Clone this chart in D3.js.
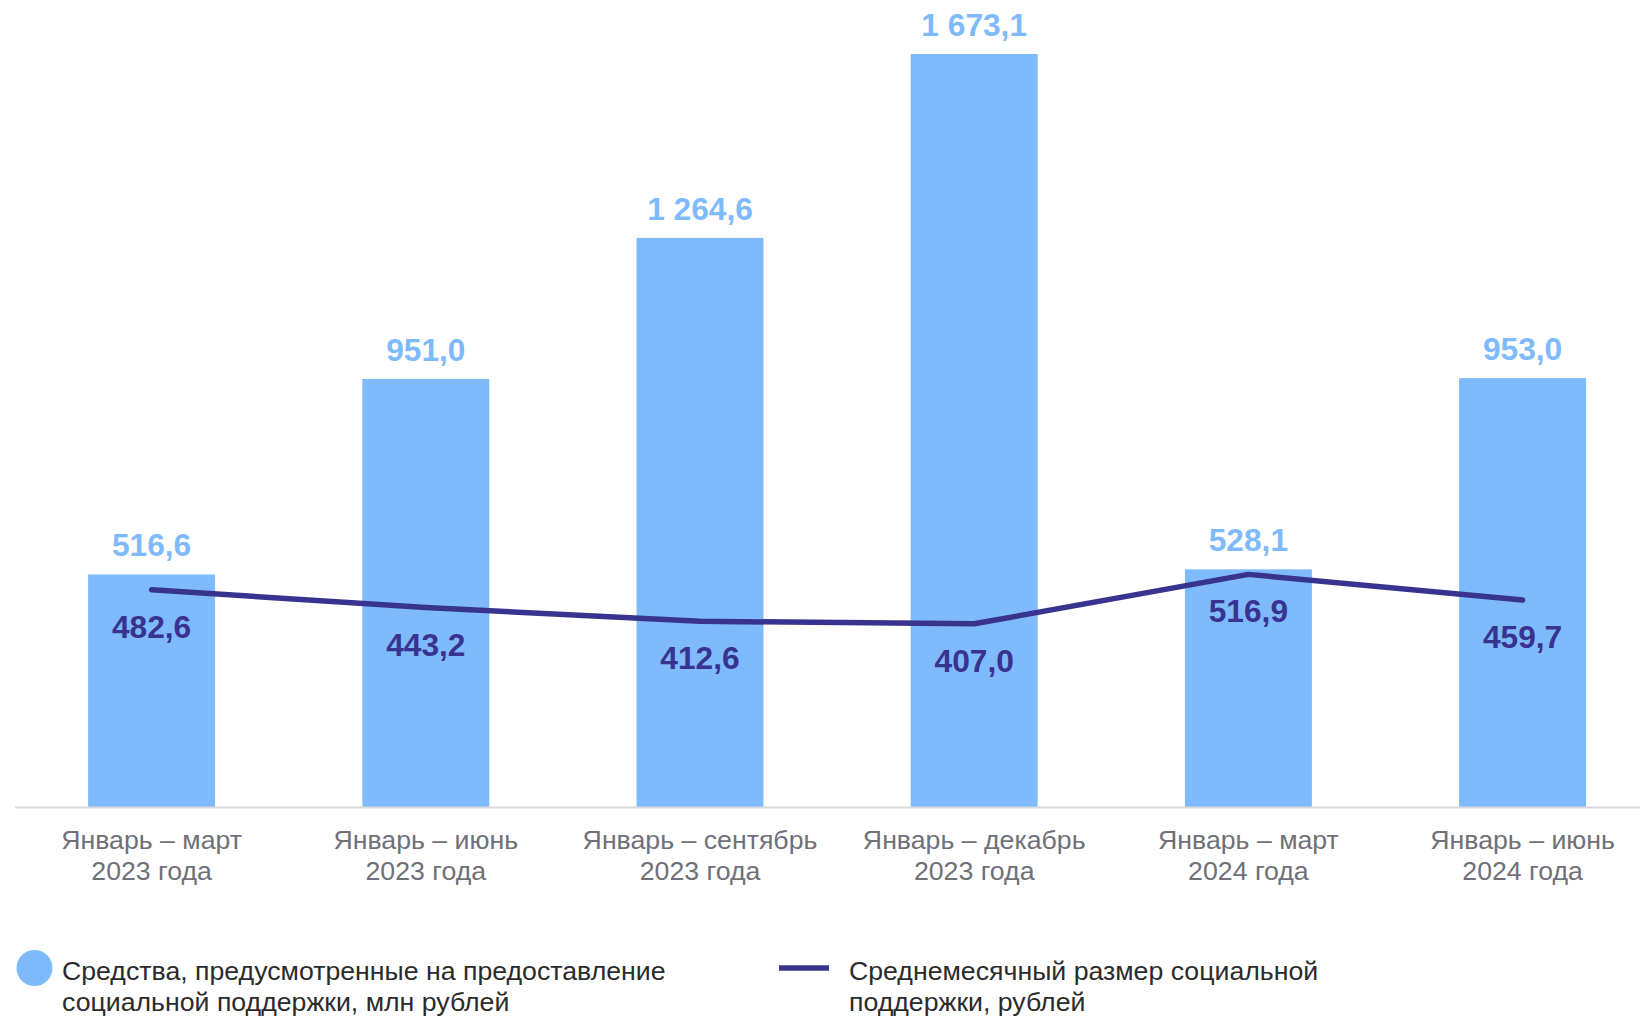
<!DOCTYPE html>
<html>
<head>
<meta charset="utf-8">
<script src="https://cdn.jsdelivr.net/npm/d3@7"></script>
<style>
  body { margin: 0; background: #fff; }
  svg { display: block; font-family: "Liberation Sans", Arial, sans-serif; }
</style>
</head>
<body>
<svg id="chart"></svg>
<script>
// data
const periods = [
  "Январь – март|2023 года",
  "Январь – июнь|2023 года",
  "Январь – сентябрь|2023 года",
  "Январь – декабрь|2023 года",
  "Январь – март|2024 года",
  "Январь – июнь|2024 года"
];
const funds = [516.6, 951.0, 1264.6, 1673.1, 528.1, 953.0];      // млн рублей
const avgMonthly = [482.6, 443.2, 412.6, 407.0, 516.9, 459.7];   // рублей
const legendLabels = [
  "Средства, предусмотренные на предоставление|социальной поддержки, млн рублей",
  "Среднемесячный размер социальной|поддержки, рублей"
];

const fmt = v => {
  const s = d3.format(",.1f")(v);
  return s.replace(",", " ").replace(".", ",");
};

const width = 1640, height = 1017;
const barColor = "#7fbafc", lineColor = "#38338f";

const svg = d3.select("#chart").attr("width", width).attr("height", height);

const x = d3.scaleBand()
  .domain(periods)
  .range([14.5, 1659.7])
  .paddingInner(0.537)
  .paddingOuter(0.2685);

const y = d3.scaleLinear()
  .domain([0, 1673.1])
  .range([807, 54]);

// bars
svg.append("g")
  .selectAll("rect")
  .data(funds)
  .join("rect")
  .attr("x", (d, i) => x(periods[i]))
  .attr("y", d => y(d))
  .attr("width", x.bandwidth())
  .attr("height", d => y(0) - y(d))
  .attr("fill", barColor);

// x axis
const axis = svg.append("g")
  .attr("transform", `translate(0,${y(0)})`)
  .call(d3.axisBottom(x).tickSize(0).tickPadding(0));
axis.select(".domain").attr("stroke", "#d9d9d9").attr("stroke-width", 2);
axis.selectAll(".tick text").each(function(d) {
  const t = d3.select(this);
  t.text(null)
    .attr("y", 0).attr("dy", null)
    .attr("fill", "#707078")
    .attr("font-size", 26.7)
    .attr("font-family", "'Liberation Sans', Arial, sans-serif");
  d.split("|").forEach((part, k) => {
    t.append("tspan").attr("x", 0).attr("y", 42 + k * 31).text(part);
  });
});

// bar labels
svg.append("g")
  .selectAll("text")
  .data(funds)
  .join("text")
  .attr("x", (d, i) => x(periods[i]) + x.bandwidth() / 2)
  .attr("y", d => y(d) - 18)
  .attr("text-anchor", "middle")
  .attr("font-size", 31.7)
  .attr("font-weight", "bold")
  .attr("fill", barColor)
  .text(fmt);

// line
const line = d3.line()
  .x((d, i) => x(periods[i]) + x.bandwidth() / 2)
  .y(d => y(d));
svg.append("path")
  .datum(avgMonthly)
  .attr("fill", "none")
  .attr("stroke", lineColor)
  .attr("stroke-width", 5.5)
  .attr("stroke-linecap", "round")
  .attr("stroke-linejoin", "round")
  .attr("d", line);

svg.append("g")
  .selectAll("text")
  .data(avgMonthly)
  .join("text")
  .attr("x", (d, i) => x(periods[i]) + x.bandwidth() / 2)
  .attr("y", d => y(d) + 48)
  .attr("text-anchor", "middle")
  .attr("font-size", 31.7)
  .attr("font-weight", "bold")
  .attr("fill", lineColor)
  .text(fmt);

// legend
const legend = svg.append("g").attr("font-size", 26.7).attr("fill", "#2b2b2b");
legend.append("circle").attr("cx", 34.5).attr("cy", 968).attr("r", 18).attr("fill", barColor);
legend.append("line")
  .attr("x1", 779).attr("x2", 829).attr("y1", 968).attr("y2", 968)
  .attr("stroke", lineColor).attr("stroke-width", 5.5);
[[62, legendLabels[0]], [849, legendLabels[1]]].forEach(([lx, label]) => {
  const t = legend.append("text").attr("x", lx).attr("y", 980);
  label.split("|").forEach((part, k) => {
    t.append("tspan").attr("x", lx).attr("y", 980 + k * 31).text(part);
  });
});
</script>
</body>
</html>
